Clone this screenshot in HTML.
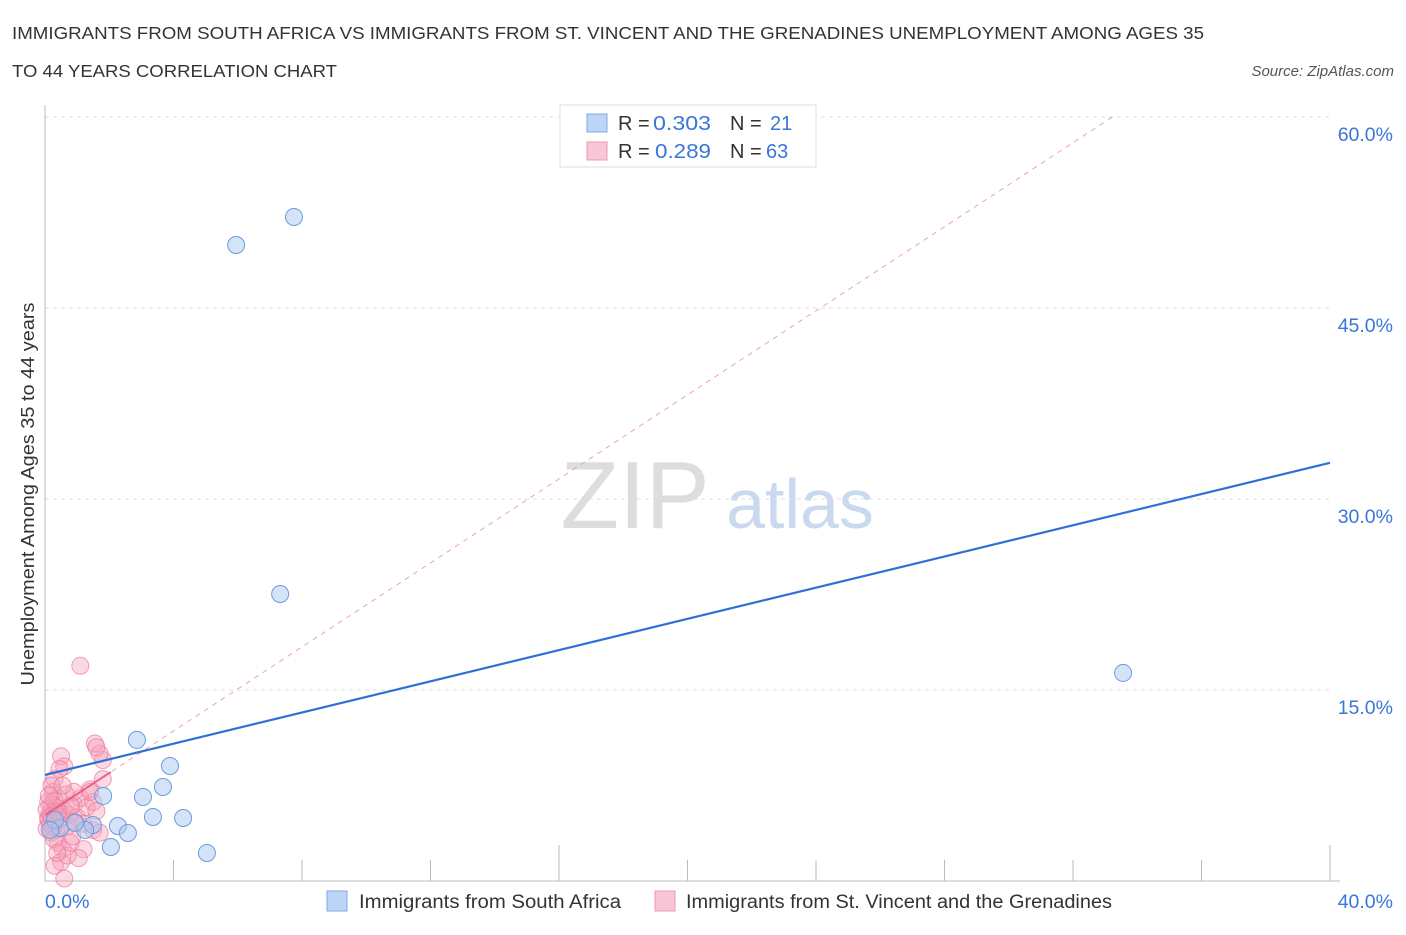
<!DOCTYPE html>
<html><head><meta charset="utf-8"><style>
body{margin:0;background:#fff;font-family:"Liberation Sans",sans-serif;}
svg text{font-family:"Liberation Sans",sans-serif;}
</style></head><body>
<svg id="chart" width="1406" height="930">
<text x="12" y="39" font-size="17.5" fill="#333" textLength="1192" lengthAdjust="spacingAndGlyphs">IMMIGRANTS FROM SOUTH AFRICA VS IMMIGRANTS FROM ST. VINCENT AND THE GRENADINES UNEMPLOYMENT AMONG AGES 35</text>
<text x="12" y="77" font-size="17.5" fill="#333" textLength="325" lengthAdjust="spacingAndGlyphs">TO 44 YEARS CORRELATION CHART</text>
<text x="1394" y="76" font-size="15" font-style="italic" fill="#555" text-anchor="end">Source: ZipAtlas.com</text>
<text x="34" y="494" font-size="18" fill="#333" text-anchor="middle" textLength="383" lengthAdjust="spacingAndGlyphs" transform="rotate(-90 34 494)">Unemployment Among Ages 35 to 44 years</text>
<text x="635" y="528" font-size="96" font-family="Liberation Serif" fill="#ddd" text-anchor="middle">ZIP</text>
<text x="800" y="528" font-size="70" fill="#c9d9ef" text-anchor="middle">atlas</text>
<g id="grid"></g><g id="axes"></g><g id="lines"></g><g id="pts"></g>
<g>
<rect x="560" y="105" width="256" height="62" fill="#fff" stroke="#ddd"/>
<rect x="587" y="114" width="20" height="18" fill="#bcd4f6" stroke="#7ea8e6"/>
<text x="618" y="130" font-size="20" fill="#333">R = </text><text x="653" y="130" font-size="20" fill="#3a76d8" textLength="58" lengthAdjust="spacingAndGlyphs">0.303</text>
<text x="730" y="130" font-size="20" fill="#333">N = </text><text x="770" y="130" font-size="20" fill="#3a76d8">21</text>
<rect x="587" y="142" width="20" height="18" fill="#f8c6d5" stroke="#ee9ab4"/>
<text x="618" y="158" font-size="20" fill="#333">R = </text><text x="655" y="158" font-size="20" fill="#3a76d8" textLength="56" lengthAdjust="spacingAndGlyphs">0.289</text>
<text x="730" y="158" font-size="20" fill="#333">N = </text><text x="766" y="158" font-size="20" fill="#3a76d8">63</text>
</g>
<g>
<rect x="327" y="891" width="20" height="20" fill="#bcd4f6" stroke="#7ea8e6"/>
<text x="359" y="908" font-size="19" fill="#333" textLength="262" lengthAdjust="spacingAndGlyphs">Immigrants from South Africa</text>
<rect x="655" y="891" width="20" height="20" fill="#f8c6d5" stroke="#ee9ab4"/>
<text x="686" y="908" font-size="19" fill="#333" textLength="426" lengthAdjust="spacingAndGlyphs">Immigrants from St. Vincent and the Grenadines</text>
</g>
</svg>
<script>
const xTicks=[0,40];
const yTicks=[15,30,45,60];
const blueX=[7.75,5.95,7.32,33.56,2.86,3.89,3.67,3.05,1.81,3.36,4.30,2.27,2.58,1.49,1.25,2.05,5.04,0.47,0.31,0.16,0.93];
const blueY=[52.15,49.95,22.54,16.34,11.08,9.03,7.38,6.60,6.68,5.03,4.95,4.32,3.77,4.40,4.01,2.67,2.20,4.16,4.79,4.01,4.56];
const pinkX=[0.1,0.2,0.3,0.15,0.4,0.5,0.25,0.35,0.6,0.1,0.2,0.45,0.3,0.5,0.6,0.2,0.4,0.55,0.5,0.7,0.3,0.8,0.75,0.9,1.0,1.1,0.9,1.2,1.3,1.5,1.4,1.6,1.8,1.7,1.55,1.6,1.1,0.6,1.2,1.5,1.7,1.8,1.4,0.15,0.25,0.35,0.05,0.1,0.2,0.3,0.4,0.65,0.7,0.85,0.55,0.45,0.95,0.05,0.12,0.28,0.38,1.05,0.8];
const pinkY=[5,6,5.5,4.5,6.5,5,7,4,5.5,6.2,3.8,4.8,8,9.8,9,7.5,3,2.5,1.5,2,1.2,3,5.2,6,5,6.5,7,4.5,5.8,6.2,7.2,5.5,9.5,10,10.8,10.5,16.9,0.2,2.5,4,3.8,8,7,5.3,4.2,5.8,5.6,4.8,5.1,6.3,5.4,6.8,4.3,3.5,7.5,8.8,4.6,4.1,6.7,3.3,2.2,1.8,5.9];
const blueTrend=[8.33,32.84];
const pinkTrend=[5.18,1.65];
const X0=45,X1=1330,Y0=881,PXPER=764/60;
const sx=v=>X0+(v/40)*(X1-X0), sy=v=>Y0-v*PXPER;
const NS='http://www.w3.org/2000/svg';
function mk(p,t,a){const e=document.createElementNS(NS,t);for(const k in a)e.setAttribute(k,a[k]);p.appendChild(e);return e;}
const grid=document.getElementById('grid'),axes=document.getElementById('axes'),lines=document.getElementById('lines'),pts=document.getElementById('pts');
yTicks.forEach(t=>{
 const l=mk(grid,'line',{x1:X0,x2:X1,y1:sy(t),y2:sy(t),stroke:'#ddd','stroke-dasharray':'4,4'});
 
 
 const tx=mk(axes,'text',{x:1393,y:sy(t)+24,'font-size':19.5,fill:'#3a76d8','text-anchor':'end'});tx.textContent=t.toFixed(1)+'%';
 
 
});
mk(axes,'line',{x1:X0,x2:X0,y1:105,y2:Y0,stroke:'#bbb'});
mk(axes,'line',{x1:X0,x2:X1+10,y1:Y0,y2:Y0,stroke:'#bbb'});
for(let i=1;i<=10;i++){const x=sx(i*4);mk(axes,'line',{x1:x,x2:x,y1:(i==4||i==10)?845:860,y2:Y0,stroke:'#bbb'});}
xTicks.forEach((t,i)=>{const tx=mk(axes,'text',{x:i?1393:45,y:908,'font-size':19.5,fill:'#3a76d8','text-anchor':i?'end':'start'});tx.textContent=t.toFixed(1)+'%';
 
 });
const pd=mk(lines,'line',{x1:sx(0),y1:sy(pinkTrend[0]),x2:sx((60-pinkTrend[0])/pinkTrend[1]),y2:sy(60),stroke:'#eea0b8','stroke-dasharray':'5,5','stroke-width':1});


pinkX.forEach((v,i)=>{const c=mk(pts,'circle',{cx:sx(v),cy:sy(pinkY[i]),r:8.5,fill:'rgba(244,160,185,0.4)',stroke:'rgba(236,120,155,0.7)','stroke-width':1});
 
 });
blueX.forEach((v,i)=>{const c=mk(pts,'circle',{cx:sx(v),cy:sy(blueY[i]),r:8.5,fill:'rgba(170,200,240,0.5)',stroke:'#6a9be0','stroke-width':1});
 
 });
const bt=mk(pts,'line',{x1:sx(0),y1:sy(blueTrend[0]),x2:sx(40),y2:sy(blueTrend[1]),stroke:'#2f6fd6','stroke-width':2.2});


const pt=mk(pts,'line',{x1:sx(0),y1:sy(pinkTrend[0]),x2:sx(2.05),y2:sy(pinkTrend[0]+pinkTrend[1]*2.05),stroke:'#e8608a','stroke-width':2});


</script>
</body></html>
